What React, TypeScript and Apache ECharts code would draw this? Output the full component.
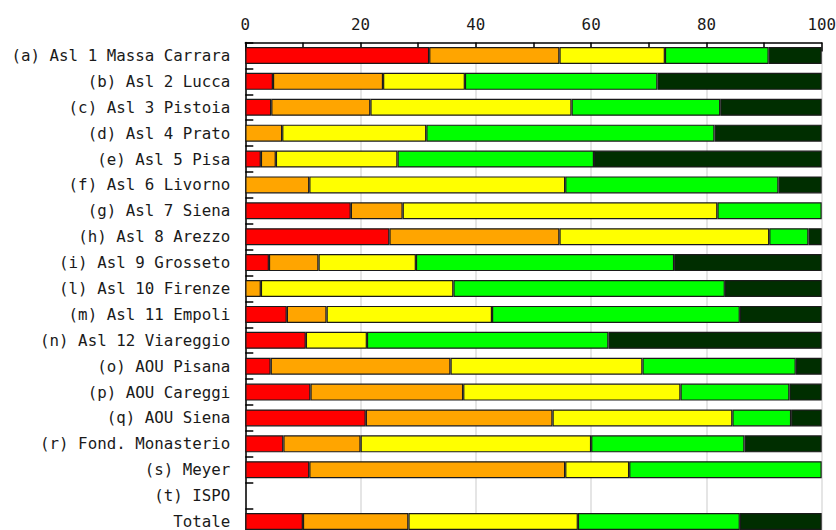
import React, { useEffect, useRef } from "react";
import * as echarts from "echarts";

const categories = [
  "(a) Asl 1 Massa Carrara",
  "(b) Asl 2 Lucca",
  "(c) Asl 3 Pistoia",
  "(d) Asl 4 Prato",
  "(e) Asl 5 Pisa",
  "(f) Asl 6 Livorno",
  "(g) Asl 7 Siena",
  "(h) Asl 8 Arezzo",
  "(i) Asl 9 Grosseto",
  "(l) Asl 10 Firenze",
  "(m) Asl 11 Empoli",
  "(n) Asl 12 Viareggio",
  "(o) AOU Pisana",
  "(p) AOU Careggi",
  "(q) AOU Siena",
  "(r) Fond. Monasterio",
  "(s) Meyer",
  "(t) ISPO",
  "Totale",
];

const red = [31.9, 4.8, 4.5, 0, 2.7, 0, 18.3, 25.0, 4.1, 0, 7.2, 10.5, 4.4, 11.3, 20.9, 6.6, 11.1, 0, 10.0];
const orange = [22.6, 19.1, 17.2, 6.4, 2.6, 11.1, 9.0, 29.5, 8.6, 2.7, 6.9, 0, 31.2, 26.5, 32.4, 13.4, 44.4, 0, 18.3];
const yellow = [18.3, 14.2, 34.9, 25.0, 21.1, 44.4, 54.6, 36.4, 16.9, 33.4, 28.7, 10.6, 33.3, 37.7, 31.2, 40.0, 11.1, 0, 29.4];
const green = [18.0, 33.4, 25.8, 50.0, 34.1, 37.0, 18.1, 6.8, 44.8, 47.1, 43.0, 41.9, 26.6, 18.9, 10.2, 26.6, 33.4, 0, 28.1];
const darkGreen = [9.2, 28.5, 17.6, 18.6, 39.5, 7.5, 0, 2.3, 25.6, 16.8, 14.2, 37.0, 4.5, 5.6, 5.3, 13.4, 0, 0, 14.2];

const seriesList = [
  { name: "rosso", data: red, color: "#ff0000" },
  { name: "arancione", data: orange, color: "#ffa500" },
  { name: "giallo", data: yellow, color: "#ffff00" },
  { name: "verde", data: green, color: "#00ff00" },
  { name: "verde scuro", data: darkGreen, color: "#002e00" },
];

const FONT = "'DejaVu Sans Mono', 'Liberation Mono', monospace";

export default function App() {
  const ref = useRef<HTMLDivElement>(null);

  useEffect(() => {
    document.body.style.margin = "0";
    if (!ref.current) return;
    const chart = echarts.init(ref.current, null, { renderer: "svg" });
    chart.setOption({
      animation: false,
      backgroundColor: "#ffffff",
      grid: {
        left: 245.3,
        right: 14.3,
        top: 42.5,
        height: 492,
        containLabel: false,
        outerBoundsMode: "none",
      },
      xAxis: {
        type: "value",
        position: "top",
        min: 0,
        max: 100,
        interval: 20,
        axisLine: { show: true, lineStyle: { color: "#000", width: 1.5 } },
        axisTick: { show: true, inside: true, length: 9, lineStyle: { color: "#000", width: 1.5 } },
        minorTick: { show: true, splitNumber: 2, length: 4.5, lineStyle: { color: "#000", width: 1.5 } },
        splitLine: { show: true, lineStyle: { color: "#dcdcdc", width: 1.5 } },
        axisLabel: {
          margin: 10,
          fontFamily: FONT,
          fontSize: 15.8,
          color: "#1a1a1a",
        },
      },
      yAxis: {
        type: "category",
        inverse: true,
        data: categories,
        axisLine: { show: true, lineStyle: { color: "#000", width: 1.5 } },
        axisTick: { show: true, inside: true, length: 8, lineStyle: { color: "#000", width: 1.5 } },
        splitLine: { show: false },
        axisLabel: {
          margin: 15,
          fontFamily: FONT,
          fontSize: 15.8,
          color: "#1a1a1a",
        },
      },
      series: seriesList.map((s) => ({
        name: s.name,
        type: "bar",
        stack: "tot",
        barWidth: 17,
        data: s.data.map((v) => (v === 0 ? null : v)),
        itemStyle: { color: s.color, borderColor: "#1a1a1a", borderWidth: 1.2 },
      })),
    });
    return () => chart.dispose();
  }, []);

  return <div ref={ref} style={{ width: 836, height: 530 }} />;
}
